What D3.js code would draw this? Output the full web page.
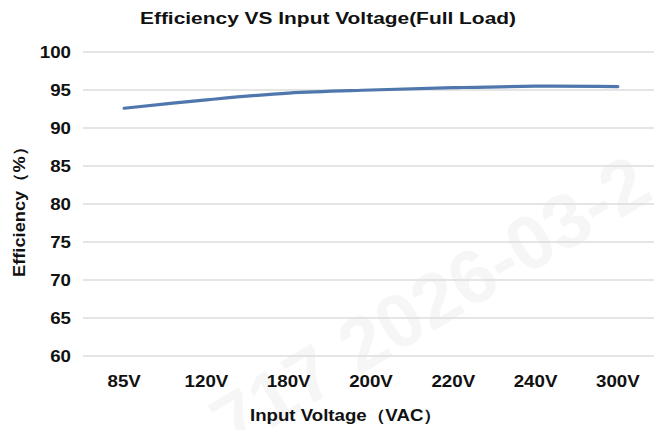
<!DOCTYPE html>
<html>
<head>
<meta charset="utf-8">
<script src="https://cdn.jsdelivr.net/npm/d3@7"></script>
<style>
  body { margin: 0; background: #fff; }
  text { font-family: "Liberation Sans", Arial, sans-serif; font-weight: bold; fill: #111; }
</style>
</head>
<body>
<div id="chart"></div>
<script>
// chart data
const voltages = ["85V", "120V", "180V", "200V", "220V", "240V", "300V"];
const efficiency = [92.6, 93.7, 94.6, 95.0, 95.3, 95.5, 95.45];
const yTicks = [60, 65, 70, 75, 80, 85, 90, 95, 100];

const width = 654;
const height = 430;
const margin = { top: 52, left: 83, right: -5, bottom: 74 };
const stretch = 1.17; // the reference lettering is a bit wider than Arial

const svg = d3.select("#chart")
    .append("svg")
    .attr("width", width)
    .attr("height", height);

// faint watermark in the background
svg.append("text")
    .attr("transform", "translate(232,452) rotate(-31)")
    .style("font-size", "76px")
    .style("fill", "#f6f6f6")
    .text("717 2026-03-2");

const x = d3.scaleBand()
    .domain(voltages)
    .range([margin.left, width - margin.right]);

const y = d3.scaleLinear()
    .domain([60, 100])
    .range([height - margin.bottom, margin.top]);

// horizontal gridlines
svg.append("g")
    .selectAll("line")
    .data(yTicks)
    .join("line")
    .attr("x1", margin.left)
    .attr("x2", width - margin.right)
    .attr("y1", d => y(d))
    .attr("y2", d => y(d))
    .attr("stroke", "#dcdcdc")
    .attr("stroke-width", 1.3);

// y tick labels
svg.append("g")
    .selectAll("text")
    .data(yTicks)
    .join("text")
    .attr("transform", d => `translate(71,${y(d)}) scale(${stretch},1)`)
    .attr("dy", "0.36em")
    .attr("text-anchor", "end")
    .style("font-size", "16px")
    .text(d => d);

// x tick labels
svg.append("g")
    .selectAll("text")
    .data(voltages)
    .join("text")
    .attr("transform", d => `translate(${x(d) + x.bandwidth() / 2},387) scale(${stretch},1)`)
    .attr("text-anchor", "middle")
    .style("font-size", "16px")
    .text(d => d);

// efficiency line
const line = d3.line()
    .x((d, i) => x(voltages[i]) + x.bandwidth() / 2)
    .y(d => y(d))
    .curve(d3.curveCatmullRom);

svg.append("path")
    .datum(efficiency)
    .attr("fill", "none")
    .attr("stroke", "#4f77ad")
    .attr("stroke-width", 3.2)
    .attr("stroke-linecap", "round")
    .attr("d", line);

// titles
svg.append("text")
    .attr("x", 140)
    .attr("y", 24)
    .attr("textLength", 376)
    .attr("lengthAdjust", "spacingAndGlyphs")
    .style("font-size", "16px")
    .text("Efficiency VS Input Voltage(Full Load)");

svg.append("text")
    .attr("x", 250)
    .attr("y", 421)
    .attr("textLength", 192)
    .attr("lengthAdjust", "spacingAndGlyphs")
    .style("font-size", "16px")
    .text("Input Voltage（VAC）");

svg.append("text")
    .attr("transform", "translate(25,277) rotate(-90)")
    .attr("textLength", 139)
    .attr("lengthAdjust", "spacingAndGlyphs")
    .style("font-size", "16px")
    .text("Efficiency（%）");
</script>
</body>
</html>
